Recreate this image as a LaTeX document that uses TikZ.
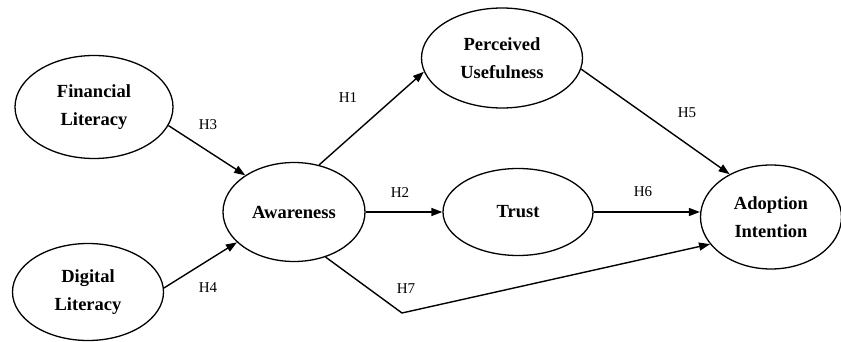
\documentclass[tikz,border=0pt]{standalone}
\usepackage{fontspec}
\setmainfont{Liberation Serif}
\usetikzlibrary{shapes.geometric,arrows.meta}
\begin{document}
\begin{tikzpicture}[x=1pt,y=-1pt,
  construct/.style={draw, line width=1.3pt, ellipse, inner sep=0pt, align=center,
    font=\fontsize{18.5}{28}\selectfont\bfseries},
  hyp/.style={font=\fontsize{15}{17}\selectfont, inner sep=1pt},
  link/.style={line width=1.4pt, -{Triangle[length=11pt,width=8pt]}}]
\useasboundingbox (0,0) rectangle (841,342);
\node[construct, minimum width=158pt, minimum height=103pt] (FL) at (94,107) {Financial\\Literacy};
\node[construct, minimum width=151pt, minimum height=97pt] (DL) at (88,292) {Digital\\Literacy};
\node[construct, minimum width=142pt, minimum height=99pt] (AW) at (294,212) {Awareness};
\node[construct, minimum width=161pt, minimum height=100pt] (PU) at (502,58) {Perceived\\Usefulness};
\node[construct, minimum width=150pt, minimum height=87pt] (TR) at (518,212) {Trust};
\node[construct, minimum width=141pt, minimum height=104pt] (AI) at (771,217) {Adoption\\Intention};
\coordinate (K) at (402,313);
\draw[link] (AW.62) -- (PU.190);
\draw[link] (FL.346) -- (AW.143);
\draw[link] (DL.3) -- (AW.208);
\draw[link] (AW.east) -- (TR.west);
\draw[link] (TR.east) -- (TR.east -| AI.west);
\draw[link] (PU.352) -- (AI.134);
\draw[link] (AW.305) -- (K) -- (AI.204);
\node[hyp] (h1) at (348,98) {H1};
\node[hyp] (h2) at (400,193) {H2};
\node[hyp] (h3) at (208,125) {H3};
\node[hyp] (h4) at (208,288) {H4};
\node[hyp] (h5) at (687,113) {H5};
\node[hyp] (h6) at (643,192) {H6};
\node[hyp] (h7) at (406,289) {H7};
\end{tikzpicture}
\end{document}
